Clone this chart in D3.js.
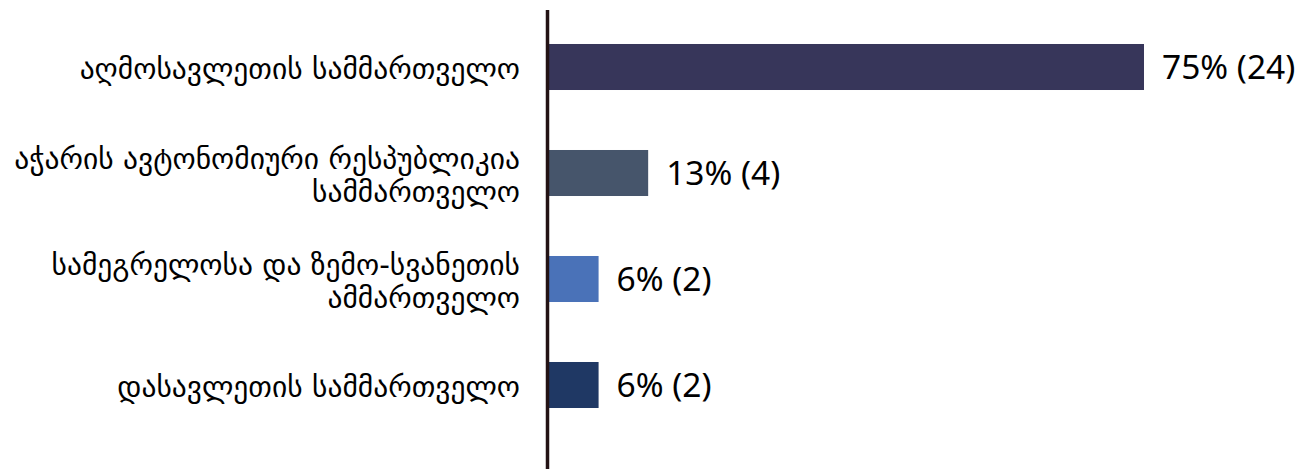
<!DOCTYPE html>
<html>
<head>
<meta charset="utf-8">
<script src="https://cdn.jsdelivr.net/npm/d3@7"></script>
<style>
  html, body { margin: 0; padding: 0; background: #ffffff; }
  svg { display: block; }
</style>
</head>
<body>
<svg id="chart" width="1312" height="469"></svg>
<script>
const categories = [
  ["აღმოსავლეთის სამმართველო"],
  ["აჭარის ავტონომიური რესპუბლიკია", "სამმართველო"],
  ["სამეგრელოსა და ზემო-სვანეთის", "ამმართველო"],
  ["დასავლეთის სამმართველო"]
];
const counts = [24, 4, 2, 2];
const percentLabels = ["75%", "13%", "6%", "6%"];
const barColors = ["#37365a", "#46556b", "#4a72b8", "#1f3864"];

const svg = d3.select("#chart");
const W = 1312, H = 469;
const x0 = 549;

const keys = categories.map((c, i) => "c" + i);
const y = d3.scaleBand().domain(keys).range([14, 438]).paddingInner(0.566).paddingOuter(0.283);
const x = d3.scaleLinear().domain([0, d3.max(counts)]).range([x0, 1144]);

// bars
svg.append("g").selectAll("rect").data(counts).join("rect")
  .attr("x", x(0))
  .attr("y", (d, i) => y(keys[i]))
  .attr("width", d => x(d) - x(0))
  .attr("height", y.bandwidth())
  .attr("fill", (d, i) => barColors[i]);

// value labels
svg.append("g").selectAll("text").data(counts).join("text")
  .attr("x", d => x(d) + 18)
  .attr("y", (d, i) => y(keys[i]) + y.bandwidth() / 2)
  .attr("dy", "0.35em")
  .attr("font-family", "'Noto Sans', 'Open Sans', sans-serif")
  .attr("font-size", 33.5)
  .attr("fill", "#000")
  .text((d, i) => percentLabels[i] + " (" + d + ")");

// category labels
const lineH = 33;
const lab = svg.append("g").selectAll("text").data(categories).join("text")
  .attr("text-anchor", "end")
  .attr("font-family", "'DejaVu Sans', sans-serif")
  .attr("font-size", 29.5)
  .attr("fill", "#000")
  .attr("x", 520)
  .attr("y", (d, i) => y(keys[i]) + y.bandwidth() / 2 + 2 - (d.length - 1) * lineH / 2);
lab.selectAll("tspan").data(d => d).join("tspan")
  .attr("x", 520)
  .attr("dy", (d, j) => j === 0 ? "0.35em" : lineH)
  .text(d => d);

// axis line
const yAxis = d3.axisLeft(d3.scaleLinear().range([9.5, H])).ticks(0).tickSize(0).tickFormat("");
const ax = svg.append("g").attr("transform", `translate(${x0 - 2},0)`).call(yAxis);
ax.select(".domain").attr("stroke", "#231214").attr("stroke-width", 3.5);
</script>
</body>
</html>
